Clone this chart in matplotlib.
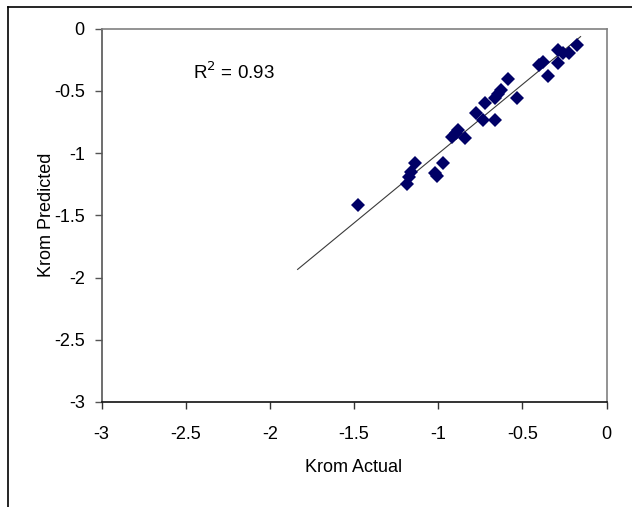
import matplotlib
matplotlib.use("Agg")
import matplotlib.pyplot as plt
from matplotlib.lines import Line2D

plt.rcParams['font.family'] = ['Liberation Sans', 'DejaVu Sans']

# Data
krom_actual = [-1.475, -1.188, -1.174, -1.164, -1.138, -1.021, -1.009, -0.974,
               -0.916, -0.897, -0.883, -0.843, -0.778, -0.732, -0.724, -0.661,
               -0.661, -0.643, -0.625, -0.584, -0.530, -0.402, -0.378, -0.348,
               -0.289, -0.289, -0.259, -0.223, -0.173]
krom_predicted = [-1.42, -1.245, -1.19, -1.15, -1.083, -1.164, -1.185, -1.078,
                  -0.868, -0.84, -0.815, -0.882, -0.675, -0.734, -0.599, -0.734,
                  -0.559, -0.524, -0.492, -0.406, -0.559, -0.290, -0.271, -0.384,
                  -0.277, -0.175, -0.196, -0.196, -0.129]
trend_x = [-1.835, -0.154]
trend_y = [-1.935, -0.065]
r2_label = "R$^2$ = 0.93"
ticks = [-3, -2.5, -2, -1.5, -1, -0.5, 0]
tick_labels = ["-3", "-2.5", "-2", "-1.5", "-1", "-0.5", "0"]

fig = plt.figure(figsize=(6.32, 5.07), dpi=100)
ax = fig.add_axes([101.5/632, 1-402/507, 505/632, 373.5/507])

ax.plot(trend_x, trend_y, color='#3a3a3a', lw=0.8, zorder=2)
ax.plot(krom_actual, krom_predicted, linestyle='none', marker='D',
        markersize=7.4, color='#000066', markeredgewidth=0, zorder=3)

ax.set_xlim(-3, 0)
ax.set_ylim(-3, 0)
ax.set_xticks(ticks)
ax.set_xticklabels(tick_labels)
ax.set_yticks(ticks)
ax.set_yticklabels(tick_labels)

ax.tick_params(axis='x', direction='out', length=5, width=1, pad=12,
               labelsize=13, colors='black')
ax.tick_params(axis='y', direction='out', length=5, width=1, pad=7,
               labelsize=13, colors='black')
ax.tick_params(axis='x', color='#333333')
ax.tick_params(axis='y', color='#555555')

ax.spines['bottom'].set_color('#111111')
ax.spines['left'].set_color('#555555')
ax.spines['top'].set_color('#808080')
ax.spines['right'].set_color('#808080')
for s in ax.spines.values():
    s.set_linewidth(1.2)

ax.set_xlabel("Krom Actual", fontsize=13, labelpad=12)
ax.set_ylabel("Krom Predicted", fontsize=13, labelpad=-1)

ax.text(-2.455, -0.35, r2_label, fontsize=13.5, ha='left', va='center')

# outer frame (top and left edges)
fig.add_artist(Line2D([8/632, 1], [1-7/507, 1-7/507], transform=fig.transFigure,
                      color='black', lw=1.2))
fig.add_artist(Line2D([8/632, 8/632], [0, 1-7/507], transform=fig.transFigure,
                      color='black', lw=1.2))

fig.savefig("out.png", dpi=100)
